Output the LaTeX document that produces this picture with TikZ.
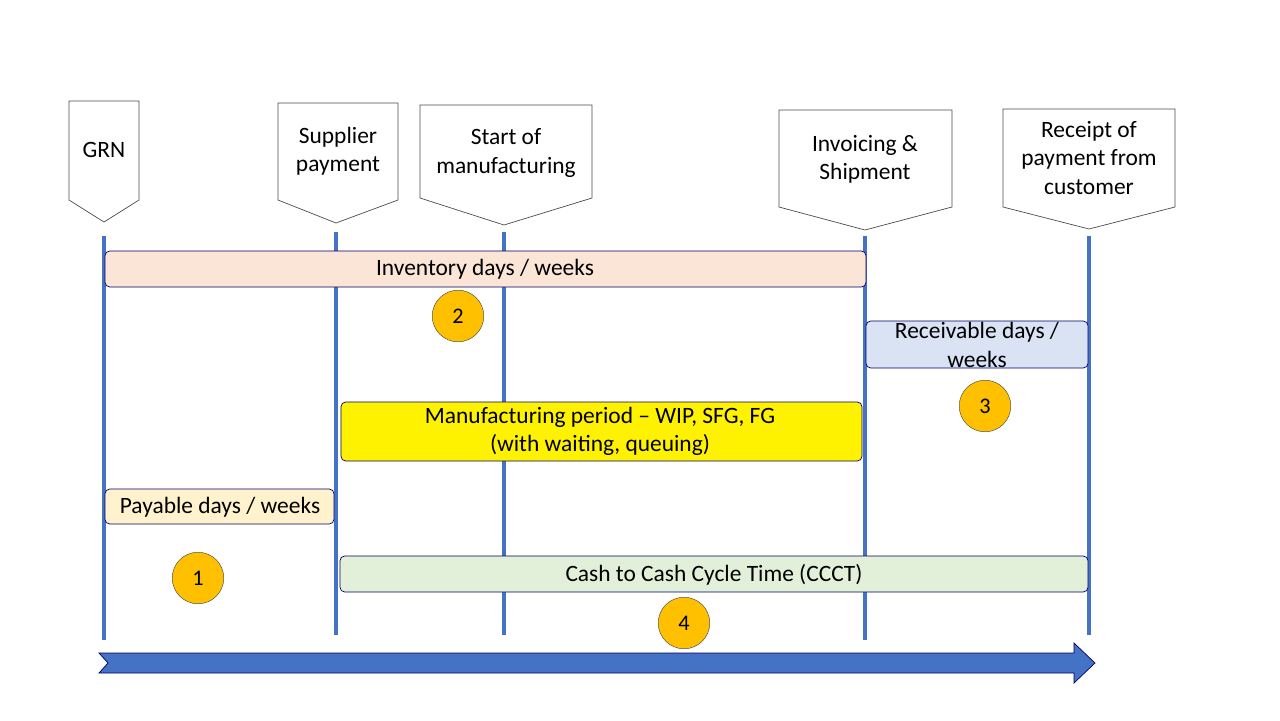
\documentclass[tikz,border=0pt]{standalone}
\usepackage{fontspec}
\setmainfont{Carlito}
\begin{document}
\begin{tikzpicture}[x=0.03cm,y=-0.03cm,
  edge/.style={draw=black!70,line width=0.6pt},
  bar/.style={draw=blue!40!black,line width=0.6pt,rounded corners=4pt},
  vl/.style={draw=blueM,line width=3.3pt},
  num/.style={circle,draw=black!70,fill=orng,minimum size=44pt,inner sep=0pt,font=\fontsize{19}{22}\selectfont},
  lbl/.style={align=center,font=\fontsize{20}{24}\selectfont}]
\definecolor{blueM}{HTML}{4472C4}
\definecolor{orng}{HTML}{FFC000}
\definecolor{cinv}{HTML}{FBE5D6}
\definecolor{crec}{HTML}{DAE3F3}
\definecolor{cpay}{HTML}{FFF2CC}
\definecolor{ccc}{HTML}{E2F0D9}
\useasboundingbox (0,0) rectangle (1280,720);
% callouts
\foreach \n/\l/\r/\t/\s/\p/\c in {g/69/139/101/200/222/104, s/278/398/103/200/223/336, m/420/592/105/198/225/504, i/779/952/110/207/230/865, r/1003/1175/109/207/229/1089}{
  \draw[edge,fill=white] (\l,\t) -- (\r,\t) -- (\r,\s) -- (\c,\p) -- (\l,\s) -- cycle;
  \coordinate (top\n) at (\c,\p);
}
\node[lbl] (tg) at (104,150) {GRN};
\node[lbl] (ts) at (338,151) {Supplier\\payment};
\node[lbl] (tm) at (506,153) {Start of\\manufacturing};
\node[lbl] (ti) at (865,159) {Invoicing \&\\Shipment};
\node[lbl] (tr) at (1089,158) {Receipt of\\payment from\\customer};
% vertical lines
\coordinate (bg) at (104,640); \coordinate (bs) at (336,635); \coordinate (bm) at (504,635);
\coordinate (bi) at (865,640); \coordinate (br) at (1089,635);
\draw[vl] (104,236) -- (bg); \draw[vl] (336,232) -- (bs); \draw[vl] (504,232) -- (bm);
\draw[vl] (865,236) -- (bi); \draw[vl] (1089,236) -- (br);
% bars
\draw[bar,fill=cinv] (105,251) rectangle (866,287);
\node[lbl] (inv) at (485,269) {Inventory days / weeks};
\draw[bar,fill=crec] (866,321) rectangle (1088,368);
\node[lbl] (rec) at (977,345) {Receivable days /\\weeks};
\draw[bar,fill=yellow] (341,402) rectangle (862,461);
\node[lbl] (man) at (600,431) {Manufacturing period – WIP, SFG, FG\\(with waiting, queuing)};
\draw[bar,fill=cpay] (105,489) rectangle (334,524);
\node[lbl] (pay) at (220,507) {Payable days / weeks};
\draw[bar,fill=ccc] (340,556) rectangle (1088,592);
\node[lbl] (cc) at (714,575) {Cash to Cash Cycle Time (CCCT)};
% numbers
\node[num] (n2) at (458,316) {2};
\node[num] (n3) at (985,406) {3};
\node[num] (n1) at (198,578) {1};
\node[num] (n4) at (684,623) {4};
% arrow
\draw[fill=blueM,draw=blue!40!black,line width=0.6pt] (99,653) -- (1074,653) -- (1074,643) -- (1095,663) -- (1074,683) -- (1074,673) -- (99,673) -- (108,663) -- cycle;
\end{tikzpicture}
\end{document}
